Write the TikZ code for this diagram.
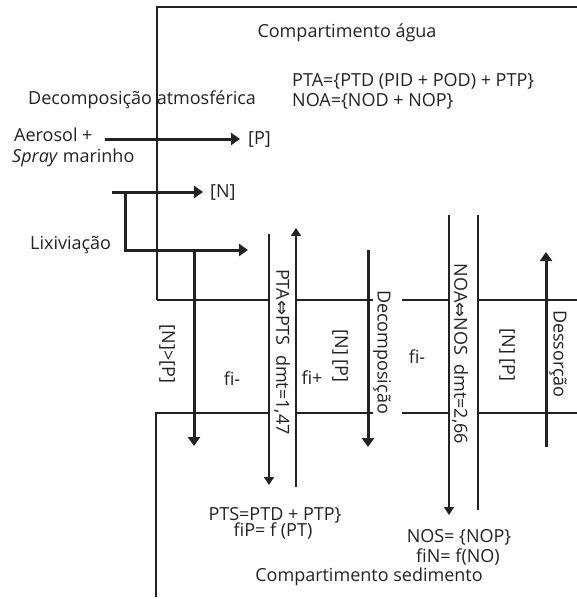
\documentclass[tikz,border=0pt]{standalone}
\usepackage{fontspec}
\setmainfont{Open Sans}
\newfontfamily\symfont{DejaVu Sans}
\usetikzlibrary{arrows.meta}
\definecolor{ink}{HTML}{222222}
\newcommand{\dbl}{{\symfont\char"21D4}}
\begin{document}
\begin{tikzpicture}[x=1pt,y=-1pt,
  txt/.style={inner sep=0pt,text=ink,font=\fontsize{18}{21}\selectfont},
  vtxt/.style={txt,rotate=-90},
  frame/.style={draw=ink,line width=1.3pt},
  thin/.style={draw=ink,line width=1.3pt,-{Triangle[width=10pt,length=8pt]}},
  thick/.style={draw=ink,line width=3pt,-{Triangle[width=12pt,length=9pt]}}]
\useasboundingbox (0,0) rectangle (577,599);
% frames
\draw[frame] (157,300) -- (157,7) -- (577,7);
\draw[frame] (157,300) -- (269,300);
\draw[frame] (296,300) -- (373,300);
\draw[frame] (402,300) -- (449,300);
\draw[frame] (478,300) -- (577,300);
\draw[frame] (156,597) -- (156,413) -- (269,413);
\draw[frame] (296,413) -- (373,413);
\draw[frame] (402,413) -- (449,413);
\draw[frame] (478,413) -- (577,413);
% coordinates
\coordinate (aS) at (105,139); \coordinate (aE) at (240,139);
\coordinate (nS) at (112,192); \coordinate (nE) at (203,192);
\coordinate (lA) at (125,192); \coordinate (lB) at (125,250); \coordinate (lE) at (248,250);
\coordinate (lD) at (194,250); \coordinate (lDE) at (194,446);
\coordinate (pS) at (269,234); \coordinate (pE) at (269,485);
\coordinate (uS) at (296,487); \coordinate (uE) at (296,228);
\coordinate (dS) at (368,250); \coordinate (dE) at (368,447);
\coordinate (oS) at (449,215); \coordinate (oE) at (449,515);
\coordinate (rS) at (478,215); \coordinate (rE) at (478,510);
\coordinate (sS) at (546,447); \coordinate (sE) at (546,252);
% arrows
\draw[thick] (aS) -- (aE);
\draw[thick] (nS) -- (nE);
\draw[thick] (lA) -- (lB) -- (lE);
\draw[thick] (lD) -- (lDE);
\draw[thin] (pS) -- (pE);
\draw[thin] (uS) -- (uE);
\draw[thick] (dS) -- (dE);
\draw[thin] (oS) -- (oE);
\draw[frame] (rS) -- (rE);
\draw[thick] (sS) -- (sE);
% texts
\node[txt] (ca) at (347,33) {Compartimento água};
\node[txt,anchor=west] (pta) at (292,81) {PTA=\{PTD (PID + POD) + PTP\}};
\node[txt,anchor=west] (noa) at (292,101) {NOA=\{NOD + NOP\}};
\node[txt,anchor=west] (da) at (28,100) {Decomposição atmosférica};
\node[txt,anchor=west] (aer) at (14,135) {Aerosol +};
\node[txt,anchor=west] (spr) at (12,158) {\textit{Spray} marinho};
\node[txt,anchor=west] (P1) at (248,139) {[P]};
\node[txt,anchor=west] (N1) at (210,192) {[N]};
\node[txt,anchor=west] (lix) at (30,245) {Lixiviação};
\node[vtxt] (npg) at (167,354) {[N]>[P]};
\node[txt] (fi1) at (232,379) {fi-};
\node[vtxt] (pp) at (282,352) {PTA\dbl PTS\ \ dmt=1,47};
\node[txt] (fi2) at (312,378) {fi+};
\node[vtxt] (np1) at (340,356) {[N] [P]};
\node[vtxt] (dec) at (382,352) {Decomposição};
\node[txt] (fi3) at (417,357) {fi-};
\node[vtxt] (nn) at (460,354) {NOA\dbl NOS\ \ dmt=2,66};
\node[vtxt] (np2) at (507,355) {[N] [P]};
\node[vtxt] (des) at (558,354) {Dessorção};
\node[txt] (pts) at (275,515) {PTS=PTD + PTP\}};
\node[txt] (fip) at (273,531) {fiP= f (PT)};
\node[txt] (nos) at (459,537) {NOS= \{NOP\}};
\node[txt] (fin) at (458,557) {fiN= f(NO)};
\node[txt] (cs) at (369,577) {Compartimento sedimento};
\end{tikzpicture}
\end{document}
